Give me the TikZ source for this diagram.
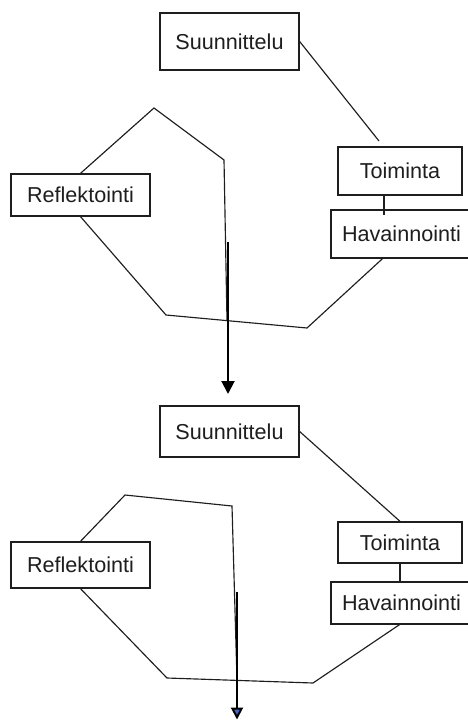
\documentclass[tikz,border=0pt]{standalone}
\usepackage{fontspec}
\setmainfont{Liberation Sans}
\usetikzlibrary{arrows.meta}
\definecolor{ink}{RGB}{30,30,30}
\definecolor{tipblue}{RGB}{70,100,190}
\tikzset{
  box/.style={draw=ink, line width=1.3pt, fill=white, inner sep=0pt,
    font=\fontsize{21.6}{24}\selectfont, text=ink},
  thin/.style={draw=ink, line width=1.15pt, line join=miter},
  thickarrow/.style={draw=black, line width=2pt,
    -{Triangle[width=13pt,length=13pt]}},
  bluearrow/.style={draw=black, line width=2pt,
    -{Triangle[width=12pt,length=12pt,fill=tipblue]}}
}
\begin{document}
\begin{tikzpicture}[x=1pt,y=-1pt]
\useasboundingbox (0,0) rectangle (468,720);

% ---------- upper cycle ----------
\node[box, minimum width=139pt, minimum height=57pt] (s1) at (229.5,41.5) {Suunnittelu};
\node[box, minimum width=124pt, minimum height=48pt] (t1) at (400,171) {Toiminta};
\node[box, minimum width=141pt, minimum height=48pt] (h1) at (401.5,234) {Havainnointi};
\node[box, minimum width=139pt, minimum height=42pt] (r1) at (80.5,195) {Reflektointi};

\coordinate (c1a) at (379,141);
\coordinate (p1a) at (154,108);
\coordinate (p1b) at (224,160);
\coordinate (p1c) at (227,321);
\coordinate (p1d) at (166,315);
\coordinate (p1e) at (307,328);
\coordinate (a1s) at (228,242);
\coordinate (a1e) at (228,394);

\draw[thin] (s1.east) -- (c1a);
\draw[thin] ([xshift=-16pt]t1.south) -- ([xshift=-16pt,yshift=-6pt]t1.south |- h1.north);
\draw[thin] (r1.north) -- (p1a) -- (p1b) -- (p1c);
\draw[thin] (r1.south) -- (p1d) -- (p1e) -- ([xshift=-19pt]h1.south);

\draw[thickarrow] (a1s) -- (a1e);

% ---------- lower cycle ----------
\node[box, minimum width=139pt, minimum height=51pt] (s2) at (229.5,431.5) {Suunnittelu};
\node[box, minimum width=124pt, minimum height=41pt] (t2) at (400,542.5) {Toiminta};
\node[box, minimum width=141pt, minimum height=42pt] (h2) at (401.5,603) {Havainnointi};
\node[box, minimum width=139pt, minimum height=46pt] (r2) at (80.5,565) {Reflektointi};

\coordinate (p2a) at (125,495);
\coordinate (p2b) at (232,506);
\coordinate (p2c) at (237,680);
\coordinate (p2d) at (167,678);
\coordinate (p2e) at (313,683);
\coordinate (a2s) at (237,592);
\coordinate (a2e) at (237,719.5);

\draw[thin] (s2.east) -- (t2.north);
\draw[thin] (t2.south) -- (t2.south |- h2.north);
\draw[thin] (r2.north) -- (p2a) -- (p2b) -- (p2c);
\draw[thin] (r2.south) -- (p2d) -- (p2e) -- ([xshift=-2pt]h2.south);

\draw[bluearrow] (a2s) -- (a2e);
\end{tikzpicture}
\end{document}
